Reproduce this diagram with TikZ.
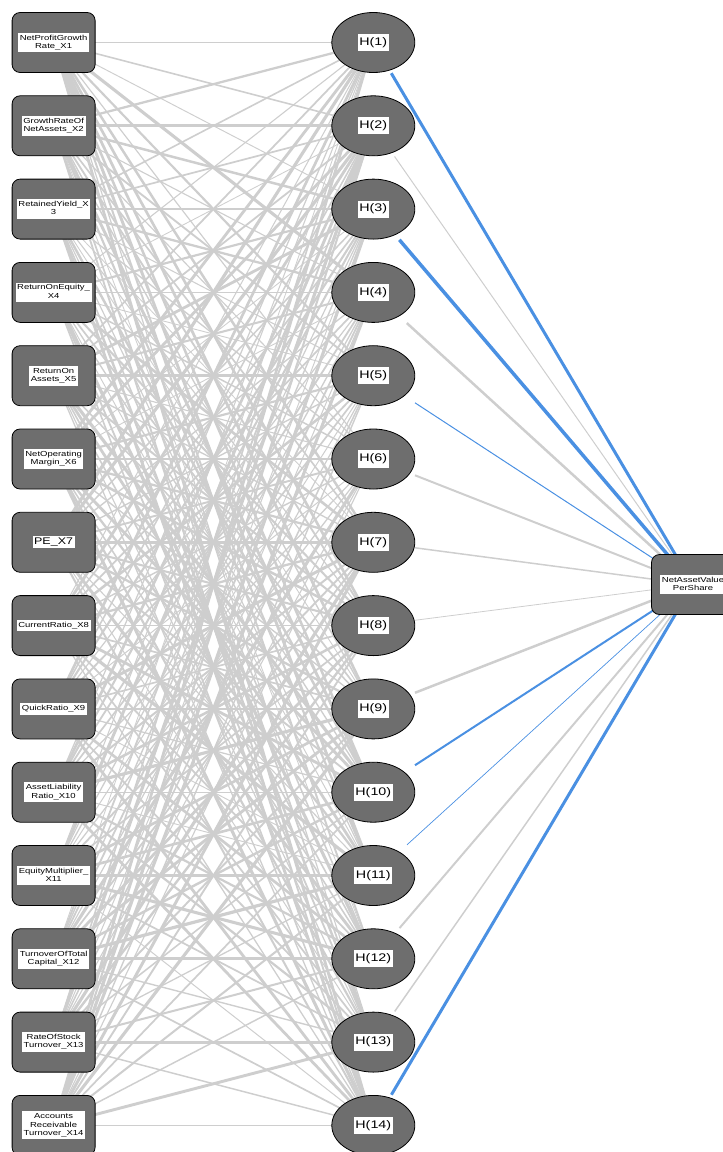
\documentclass[tikz,border=0pt]{standalone}
\usepackage{fontspec}
\setmainfont{Liberation Sans}[FakeStretch=1.3]
\usetikzlibrary{shapes.geometric, backgrounds}
\definecolor{nnGrey}{RGB}{110,110,110}
\definecolor{nnLine}{RGB}{206,206,206}
\definecolor{nnBlue}{RGB}{74,144,226}
\newcommand{\nnlab}[1]{\colorbox{white}{\begin{tabular}{@{}c@{}}#1\end{tabular}}}
\setlength{\fboxsep}{1.6pt}

\begin{document}
\begin{tikzpicture}[x=1pt, y=-1pt,
    inbox/.style={draw=black, line width=0.8pt, fill=nnGrey, rounded corners=8pt,
                  minimum width=83pt, minimum height=60pt, inner sep=0pt,
                  font=\fontsize{7.3}{8.3}\selectfont},
    hid/.style={ellipse, draw=black, line width=0.8pt, fill=nnGrey,
                minimum width=83pt, minimum height=60pt, inner sep=0pt,
                font=\fontsize{11}{14}\selectfont},
    hidbox/.style={rectangle, minimum width=83pt, minimum height=61pt, inner sep=0pt}]
  \useasboundingbox (0,0) rectangle (723,1152);
  % input layer
  \foreach \t [count=\i] in {{NetProfitGrowth\\Rate\_X1}, {GrowthRateOf\\NetAssets\_X2},
      {RetainedYield\_X\\3}, {ReturnOnEquity\_\\X4}, {ReturnOn\\Assets\_X5},
      {NetOperating\\Margin\_X6}, {\fontsize{9.6}{11}\selectfont PE\_X7},
      {CurrentRatio\_X8}, {QuickRatio\_X9}, {AssetLiability\\Ratio\_X10},
      {EquityMultiplier\_\\X11}, {TurnoverOfTotal\\Capital\_X12},
      {RateOfStock\\Turnover\_X13}, {Accounts\\Receivable\\Turnover\_X14}}
    \node[inbox] (x\i) at (53.6, {42.5+83.3*(\i-1)}) {\nnlab{\t}};
  % hidden layer
  \foreach \i in {1,...,14} {
    \node[hid] (h\i) at (373.3, {42.5+83.3*(\i-1)}) {\nnlab{H(\i)}};
    \node[hidbox] (hb\i) at (h\i) {};
  }
  % output
  \node[inbox] (out) at (693,584.5) {\nnlab{NetAssetValue\\PerShare}};
  \begin{scope}[on background layer]
    \pgfmathsetseed{42}
    \foreach \i in {1,...,14}
      \foreach \j in {1,...,14} {
        \pgfmathsetmacro{\w}{0.8+2.4*rnd}
        \draw[nnLine, line width=\w pt] (x\i.center) -- (h\j.center);
      }
    \foreach \i/\c/\w in {1/nnBlue/3, 2/nnLine/1, 3/nnBlue/3.5, 4/nnLine/2.5,
        5/nnBlue/1, 6/nnLine/2, 7/nnLine/1.5, 8/nnLine/0.8, 9/nnLine/2.5,
        10/nnBlue/2, 11/nnBlue/0.7, 12/nnLine/2, 13/nnLine/1.5, 14/nnBlue/3}
      \draw[\c, line width=\w pt] (hb\i) -- (out.center);
  \end{scope}
\end{tikzpicture}
\end{document}
